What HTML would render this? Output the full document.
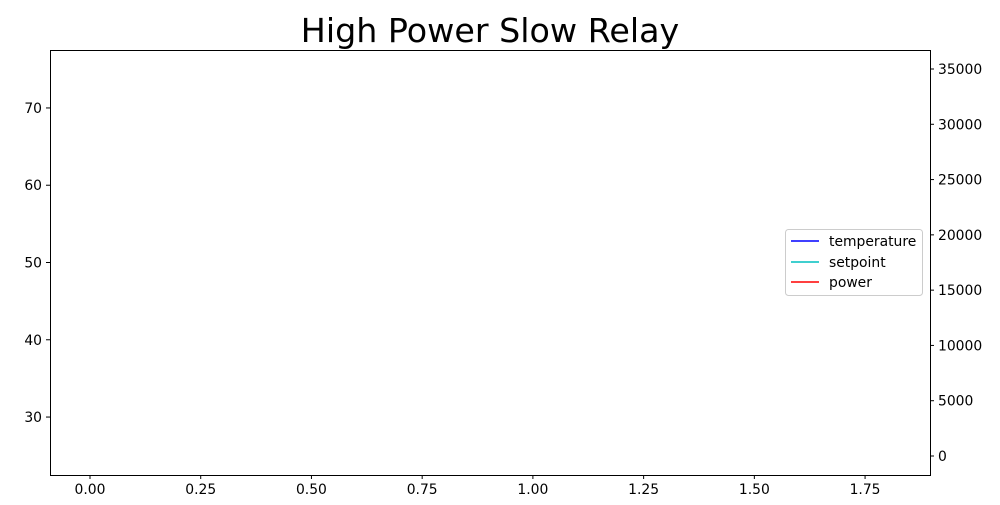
<!DOCTYPE html>
<html><head><meta charset="utf-8"><style>
html,body{margin:0;padding:0;background:#fff;}
svg text{font-family:"DejaVu Sans","Liberation Sans",sans-serif;}
</style></head><body>
<svg id="chart" width="1000" height="500" viewBox="0 0 1000 500" xmlns="http://www.w3.org/2000/svg">
<rect x="0" y="0" width="1000" height="500" fill="#fff"/>
<text x="490" y="42" font-size="33.3" text-anchor="middle" fill="#000">High Power Slow Relay</text>
<g id="marks"></g>
<g id="axes"></g>
<rect x="50.5" y="50.5" width="880" height="425" fill="none" stroke="#000" stroke-width="1"/>
<g>
<rect x="785.5" y="229.5" width="137" height="66" rx="3" fill="#fff" fill-opacity="0.8" stroke="#ccc"/>
<line x1="791" y1="241" x2="819" y2="241" stroke="#0000ff" stroke-width="1.5"/>
<text x="829" y="246" font-size="13.9">temperature</text>
<line x1="791" y1="262" x2="819" y2="262" stroke="#00bfbf" stroke-width="1.5"/>
<text x="829" y="267" font-size="13.9">setpoint</text>
<line x1="791" y1="282" x2="819" y2="282" stroke="#ff0000" stroke-width="1.5"/>
<text x="829" y="287" font-size="13.9">power</text>
</g>
</svg>
<script>
const xTicks = [0, 0.25, 0.5, 0.75, 1.0, 1.25, 1.5, 1.75];
const xTickLabels = ["0.00","0.25","0.50","0.75","1.00","1.25","1.50","1.75"];
const yLeftTicks = [30, 40, 50, 60, 70];
const yRightTicks = [0, 5000, 10000, 15000, 20000, 25000, 30000, 35000];
const timeValues = [];
const temperatureValues = [];
const setpointValues = [];
const powerValues = [];

const NS = "http://www.w3.org/2000/svg";
const L = 50, R = 930, T = 50, B = 475;
const xMin = -0.0903, xMax = 1.8966;
const ylMin = 22.5, ylMax = 77.5;
const yrMin = -1718, yrMax = 36718;
function xs(v){ return L + (v - xMin) / (xMax - xMin) * (R - L); }
function yl(v){ return B - (v - ylMin) / (ylMax - ylMin) * (B - T); }
function yr(v){ return B - (v - yrMin) / (yrMax - yrMin) * (B - T); }
function mk(tag, attrs){ const e = document.createElementNS(NS, tag); for (const k in attrs) e.setAttribute(k, attrs[k]); return e; }
const axes = document.getElementById('axes');
const marks = document.getElementById('marks');

xTicks.forEach((v, i) => {
  const x = xs(v);
  const t = mk('line', {x1:x, y1:B, x2:x, y2:B+4, stroke:'#000'});
  
  
  axes.appendChild(t);
  const tx = mk('text', {x:x, y:B+19, 'font-size':13.9, 'text-anchor':'middle'});
  
  
  tx.textContent = xTickLabels[i];
  axes.appendChild(tx);
});
yLeftTicks.forEach(v => {
  const y = yl(v);
  const t = mk('line', {x1:L-4, y1:y, x2:L, y2:y, stroke:'#000'});
  
  
  axes.appendChild(t);
  const tx = mk('text', {x:L-8, y:y+5, 'font-size':13.9, 'text-anchor':'end'});
  
  
  tx.textContent = v;
  axes.appendChild(tx);
});
yRightTicks.forEach(v => {
  const y = yr(v);
  const t = mk('line', {x1:R, y1:y, x2:R+4, y2:y, stroke:'#000'});
  
  
  axes.appendChild(t);
  const tx = mk('text', {x:R+8, y:y+5, 'font-size':13.9, 'text-anchor':'start'});
  
  
  tx.textContent = v;
  axes.appendChild(tx);
});
function drawLine(vals, scale, color, name){
  if (!vals.length) return;
  const pts = vals.map((v, i) => xs(timeValues[i]) + ',' + scale(v)).join(' ');
  const p = mk('polyline', {points:pts, fill:'none', stroke:color, 'stroke-width':1.5});
  
  
  marks.appendChild(p);
}
drawLine(temperatureValues, yl, '#0000ff', 'temperature-line');
drawLine(setpointValues, yl, '#00bfbf', 'setpoint-line');
drawLine(powerValues, yr, '#ff0000', 'power-line');
</script>
</body></html>
